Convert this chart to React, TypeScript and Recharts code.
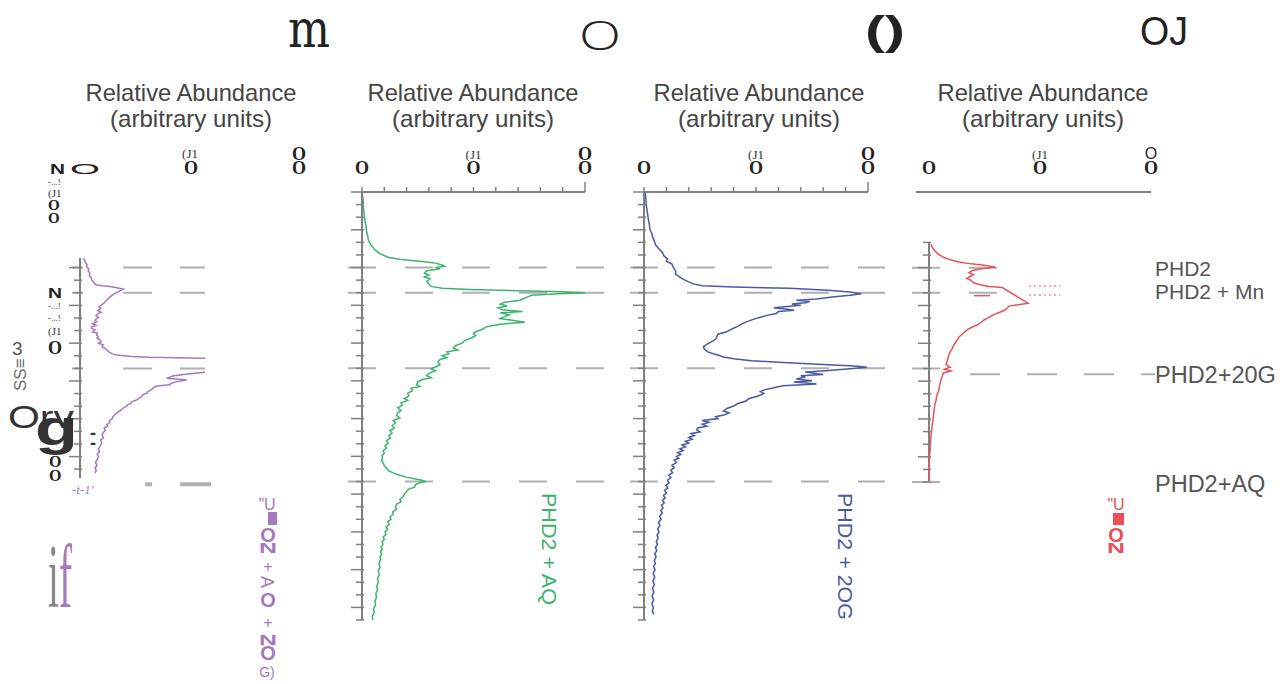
import { LineChart, Line, XAxis, YAxis, ReferenceLine } from 'recharts'

// ---- data (position = elution tick index, ab = relative abundance) ----
const abundanceTicks = [0, 10, 20, 30, 40, 50, 60, 70, 80, 90, 100]
const fullPosTicks = [0, 1, 2, 3, 4, 5, 6, 7, 8, 9, 10, 11, 12, 13, 14, 15, 16, 17, 18, 19, 20, 21, 22, 23, 24, 25, 26, 27, 28, 29, 30, 31, 32, 33, 34]
const purplePosTicks = [6, 7, 8, 9, 10, 11, 12, 13, 14, 15, 16, 17, 18, 19, 20, 21, 22]
const redPosTicks = [4, 5, 6, 7, 8, 9, 10, 11, 12, 13, 14, 15, 16, 17, 18, 19, 20, 21, 22, 23]
const markerPos = [6, 8, 14, 23]
const rightLabels = ['PHD2', 'PHD2 + Mn', 'PHD2+20G', 'PHD2+AQ']
const titleLines = ['Relative Abundance', '(arbitrary units)']
const panelLetters = ['m', 'O', '()', 'OJ']

const purpleTrace: [number, number][] = [
  [5.26, 1.5], [5.45, 2.2], [5.6, 2.5], [5.75, 3.2], [5.93, 3.1], [6.1, 4], [6.25, 3.8], [6.46, 4.6],
  [6.65, 4.3], [6.8, 5.2], [6.98, 5.4], [7.15, 6.2], [7.3, 7], [7.38, 7.7], [7.45, 10.5], [7.51, 13.9],
  [7.6, 17], [7.7, 20.1], [7.85, 18.5], [8.04, 16.2], [8.25, 14.5], [8.4, 13.5], [8.57, 12.4], [8.75, 11.5],
  [8.97, 10.1], [9.1, 8.8], [9.25, 9.6], [9.4, 8.2], [9.55, 9.8], [9.63, 8.5], [9.8, 7.4], [9.95, 8.6],
  [10.16, 7], [10.3, 7.8], [10.45, 5.8], [10.6, 7.4], [10.7, 5.3], [10.82, 5.4], [10.95, 7], [11.1, 5.8],
  [11.2, 8], [11.35, 7.7], [11.5, 8.6], [11.6, 7.9], [11.75, 9.3], [11.9, 9.8], [12.0, 8.6], [12.14, 10.8],
  [12.3, 10.3], [12.4, 11.5], [12.54, 12.4], [12.7, 13.4], [12.85, 15], [12.94, 17], [13.05, 24], [13.12, 32.5],
  [13.2, 60], [13.35, 88], [13.5, 100], [13.7, 95], [13.9, 82], [14.1, 70], [14.3, 58], [14.45, 50],
  [14.6, 43], [14.79, 40.2], [14.86, 46], [14.92, 49.5], [15.05, 45], [15.2, 42], [15.3, 41.8], [15.4, 35.6],
  [15.55, 34], [15.7, 33], [15.85, 31.5], [15.96, 31], [16.1, 29], [16.25, 28.5], [16.4, 27], [16.5, 26.3],
  [16.65, 24], [16.8, 23.5], [16.9, 22], [17.0, 21.7], [17.15, 20], [17.3, 19.2], [17.45, 17.8], [17.55, 17],
  [17.7, 16], [17.85, 15.2], [18.0, 14.8], [18.15, 13.6], [18.3, 13.9], [18.45, 12.4], [18.6, 12.8], [18.75, 11.2],
  [18.9, 11.8], [19.1, 10.8], [19.3, 10.2], [19.5, 10.9], [19.7, 9.6], [19.9, 10.1], [20.2, 9.3], [20.4, 8.5],
  [20.6, 9.1], [20.8, 8], [21.0, 8.6], [21.3, 7.7], [21.5, 7.2], [21.7, 7.9], [21.9, 7], [22.1, 7.5], [22.3, 7],
]

const greenTrace: [number, number][] = [
  [0, 0], [0.6, 0.5], [1.2, 0.6], [1.8, 1], [2.2, 1.3], [2.7, 1.8], [3.1, 2], [3.5, 2.6], [3.8, 2.8],
  [4.2, 4], [4.6, 5.8], [4.9, 8], [5.2, 12], [5.35, 17], [5.45, 22], [5.55, 28], [5.65, 33], [5.8, 36],
  [5.9, 37], [6.0, 33], [6.1, 35], [6.25, 29], [6.45, 28], [6.6, 30], [6.75, 28], [6.9, 30.5], [7.1, 29],
  [7.3, 30], [7.5, 31], [7.65, 36], [7.75, 48], [7.85, 70], [7.92, 90], [8.0, 100], [8.08, 88], [8.2, 76],
  [8.35, 74], [8.5, 72], [8.6, 71], [8.75, 64], [8.9, 62], [9.05, 65], [9.2, 61], [9.35, 63], [9.5, 72],
  [9.6, 62], [9.75, 66], [9.9, 64], [10.05, 62], [10.2, 68], [10.35, 73], [10.5, 62], [10.7, 56], [10.9, 54],
  [11.1, 51], [11.25, 50], [11.4, 51], [11.6, 49], [11.8, 46], [12.0, 45], [12.2, 42], [12.4, 41], [12.55, 43],
  [12.7, 38], [12.85, 39], [13.0, 36], [13.15, 38], [13.3, 35], [13.5, 34], [13.7, 35], [13.9, 33], [14.05, 31],
  [14.2, 33], [14.4, 30], [14.6, 29], [14.75, 31], [14.9, 27], [15.1, 25], [15.3, 24.5], [15.45, 26], [15.6, 22],
  [15.8, 22.5], [16.0, 20.5], [16.2, 21], [16.4, 19], [16.55, 20.5], [16.75, 17.5], [16.95, 18], [17.15, 16],
  [17.35, 17.5], [17.55, 16], [17.75, 15.5], [17.95, 17], [18.15, 14], [18.35, 15], [18.55, 13.5], [18.75, 14.5],
  [18.95, 12.5], [19.15, 13.5], [19.35, 12], [19.55, 12.8], [19.75, 11], [19.95, 11.8], [20.15, 10.3], [20.35, 11],
  [20.55, 9.5], [20.75, 10], [20.95, 9], [21.15, 9.2], [21.35, 8.8], [21.55, 9.6], [21.75, 10], [21.95, 11],
  [22.15, 12], [22.35, 14.5], [22.5, 17], [22.65, 20], [22.8, 24], [22.9, 27], [23.0, 28.3], [23.1, 26],
  [23.25, 24], [23.45, 23.5], [23.6, 21], [23.8, 20], [24.0, 19], [24.2, 18.5], [24.4, 17], [24.6, 17.5],
  [24.8, 15.5], [25.0, 15], [25.2, 15.5], [25.4, 13.8], [25.6, 14], [25.8, 12.6], [26.0, 13], [26.2, 11.5],
  [26.4, 12.2], [26.6, 10.8], [26.8, 11.5], [27.0, 10.3], [27.2, 10.8], [27.4, 9.5], [27.6, 10], [27.8, 9],
  [28.0, 9.4], [28.2, 8.5], [28.4, 9.1], [28.6, 8.3], [28.8, 8.8], [29.0, 8], [29.2, 8.4], [29.5, 7.6],
  [29.8, 8.1], [30.1, 7.3], [30.4, 7.7], [30.7, 7], [31.0, 7.3], [31.3, 6.6], [31.6, 7], [31.9, 6.2],
  [32.2, 6.5], [32.5, 5.8], [32.8, 6.1], [33.1, 5.2], [33.4, 5.5], [33.7, 4.6], [34.0, 4.8],
]

const blueTrace: [number, number][] = [
  [0, 0.5], [0.5, 0.8], [1.0, 1], [1.5, 1.4], [2.0, 1.8], [2.5, 2.3], [3.0, 2.7], [3.3, 3.5], [3.6, 3.9],
  [3.9, 4.6], [4.2, 5.2], [4.5, 6.6], [4.8, 8.2], [5.1, 9], [5.3, 10.4], [5.5, 10], [5.7, 12.4], [5.9, 12.8],
  [6.1, 13.5], [6.3, 14.2], [6.5, 14], [6.7, 15.5], [6.9, 17.2], [7.1, 19.5], [7.3, 22], [7.45, 26], [7.55, 40],
  [7.65, 65], [7.8, 82], [7.95, 92], [8.08, 97], [8.2, 92], [8.35, 84], [8.5, 77], [8.6, 68], [8.7, 74],
  [8.8, 72], [8.9, 66], [9.0, 70], [9.1, 64], [9.2, 58], [9.3, 63], [9.4, 67], [9.5, 60], [9.65, 59],
  [9.8, 55], [9.95, 52], [10.1, 49], [10.3, 46], [10.5, 43.5], [10.7, 41.5], [10.9, 39], [11.1, 37], [11.3, 33],
  [11.5, 32.5], [11.7, 32], [11.9, 30], [12.1, 28], [12.3, 26.5], [12.5, 27], [12.7, 28.5], [12.85, 31],
  [12.95, 33], [13.1, 35.5], [13.25, 40], [13.4, 48], [13.55, 62], [13.7, 80], [13.82, 94], [13.92, 99.5],
  [14.05, 92], [14.2, 81], [14.3, 72], [14.4, 76], [14.5, 80], [14.6, 70], [14.7, 72], [14.85, 68], [15.0, 75],
  [15.1, 67], [15.25, 77], [15.4, 62], [15.55, 58], [15.7, 54], [15.85, 52], [16.0, 53.5], [16.2, 51],
  [16.4, 47], [16.6, 45.5], [16.8, 42], [17.0, 40], [17.2, 37], [17.4, 35.5], [17.55, 38], [17.7, 36],
  [17.85, 32], [18.0, 33], [18.15, 26], [18.3, 29], [18.45, 26], [18.6, 28], [18.75, 24], [18.9, 23.5],
  [19.05, 25], [19.2, 21], [19.35, 22.5], [19.5, 20], [19.65, 21.5], [19.8, 18.5], [19.95, 20], [20.1, 17],
  [20.25, 18.5], [20.4, 16], [20.55, 17.5], [20.7, 15], [20.85, 16.5], [21.0, 14.5], [21.15, 15.5], [21.3, 13.5],
  [21.5, 14.5], [21.7, 12.5], [21.9, 13.5], [22.1, 12], [22.3, 12.8], [22.5, 11], [22.7, 12], [22.9, 10.5],
  [23.1, 11.2], [23.3, 9.8], [23.5, 10.6], [23.7, 9.2], [23.9, 10], [24.1, 8.7], [24.3, 9.4], [24.5, 8.3],
  [24.7, 9], [24.9, 7.8], [25.1, 8.5], [25.3, 7.5], [25.5, 8.2], [25.75, 7], [26.0, 7.6], [26.25, 6.5],
  [26.5, 7.1], [26.75, 6.1], [27.0, 6.7], [27.25, 5.8], [27.5, 6.3], [27.75, 5.5], [28.0, 6], [28.25, 5.1],
  [28.5, 5.7], [28.75, 4.8], [29.0, 5.4], [29.25, 4.6], [29.5, 5.1], [29.75, 4.3], [30.0, 4.9], [30.3, 4.1],
  [30.6, 4.8], [30.9, 4], [31.2, 4.6], [31.5, 3.8], [31.8, 4.4], [32.1, 3.6], [32.4, 4.3], [32.7, 3.5],
  [33.0, 4.2], [33.3, 3.7], [33.55, 4.4],
]

const redTrace: [number, number | null][] = [
  [4.15, 0.9], [4.4, 1.5], [4.6, 2.3], [4.9, 4], [5.2, 6.8], [5.4, 10], [5.55, 13.5], [5.7, 19], [5.8, 24.8],
  [5.95, 29.7], [6.05, 25], [6.2, 20], [6.4, 18], [6.55, 20], [6.7, 18.5], [6.85, 17], [7.0, 19], [7.2, 20],
  [7.35, 23], [7.5, 27], [7.58, 33], [7.7, null], [8.82, 44.6], [9.05, 36], [9.25, 35], [9.4, 33.8], [9.6, 31],
  [9.75, 29], [9.95, 27], [10.15, 24.8], [10.35, 23.5], [10.55, 21.6], [10.75, 19], [10.95, 17], [11.2, 15.5],
  [11.5, 13.5], [11.8, 12.5], [12.1, 11.3], [12.4, 10.5], [12.7, 9.5], [12.9, 9], [13.2, 8.5], [13.5, 8],
  [13.7, 7.7], [13.9, 9.5], [14.05, 7], [14.2, 9.9], [14.35, 6.5], [14.6, 6], [14.9, 5.4], [15.2, 5],
  [15.45, 4.6], [15.7, 4.5], [16.0, 3.8], [16.25, 3.4], [16.5, 3.2], [16.8, 2.7], [17.05, 2.5], [17.3, 2.3],
  [17.6, 2.1], [17.85, 1.9], [18.1, 1.8], [18.4, 1.5], [18.7, 1.3], [19.0, 1.1], [19.3, 0.9], [19.6, 0.8],
  [19.9, 0.6], [20.2, 0.5], [20.5, 0.5], [20.8, 0.3], [21.1, 0.3], [21.4, 0.1], [21.7, 0], [22.0, 0.2],
  [22.3, 0], [22.6, 0], [22.9, 0],
]

const toRows = (pairs: [number, number | null][]) => pairs.map(([pos, ab]) => ({ pos, ab }))

const SANS = '"Liberation Sans", Arial, sans-serif'
const SERIF = '"Liberation Serif", serif'
const AXIS = '#808080'
const DASH = '#b0b0b0'
const PURPLE = '#a679bd'
const GREEN = '#3db46d'
const BLUE = '#4a58a6'
const RED = '#e9505a'

const AX_Y = 50 // top axis line inside the chart svg
const Y_W = 20 // y axis width

const boldO = (x: number, y: number) => (
  <text x={x} y={y} textAnchor="middle" fontFamily={SERIF} fontWeight="bold" fontSize={18} fill="#222">O</text>
)

function TopLabel({ x, v, thinTop }: { x: number; v: number; thinTop?: boolean }) {
  if (v === 0) return boldO(x, 32)
  if (v === 50)
    return (
      <g>
        <text x={x} y={17} textAnchor="middle" fontFamily={SERIF} fontSize={13} fill="#333">(J1</text>
        {boldO(x, 32)}
      </g>
    )
  if (v === 100)
    return (
      <g>
        {thinTop ? (
          <text x={x} y={17} textAnchor="middle" fontFamily={SANS} fontSize={16} fill="#222">O</text>
        ) : (
          boldO(x, 18)
        )}
        {boldO(x, 32)}
      </g>
    )
  return null
}

function TopTick(props: any) {
  const { x, payload } = props
  const v = payload.value
  return (
    <g>
      <line x1={x} x2={x} y1={AX_Y} y2={AX_Y - (v === 100 ? 10 : 5)} stroke={AXIS} strokeWidth={1.5} />
      <TopLabel x={x} v={v} />
    </g>
  )
}

function RedTopTick(props: any) {
  const { x, payload } = props
  return (
    <g>
      <TopLabel x={x} v={payload.value} thinTop />
    </g>
  )
}

function PosTick(props: any) {
  const { y, payload } = props
  const len = payload.value % 3 === 0 ? 11 : 6
  return <line x1={Y_W - len} x2={Y_W + 2} y1={y} y2={y} stroke={AXIS} strokeWidth={1.5} />
}

const dashed = { stroke: DASH, strokeWidth: 2, ifOverflow: 'visible' as const }

export default function App() {
  const panelCenters = [191, 473, 759, 1043]
  return (
    <div style={{ position: 'absolute', left: 0, top: 0, width: 1287, height: 684, background: '#fff', overflow: 'hidden' }}>
      {/* purple panel (cropped) */}
      <div style={{ position: 'absolute', left: 60, top: 248 }}>
        <LineChart layout="vertical" width={157} height={250} data={toRows(purpleTrace)} margin={{ top: 10, right: 12, bottom: 20, left: 0 }}>
          <XAxis type="number" hide domain={[0, 58]} allowDataOverflow />
          <YAxis type="number" dataKey="pos" domain={[5.24, 22.7]} allowDataOverflow ticks={purplePosTicks} interval={0} width={Y_W} tick={PosTick} tickLine={false} axisLine={{ stroke: AXIS, strokeWidth: 2 }} />
          {markerPos.slice(0, 3).map((p) => (
            <ReferenceLine key={p} segment={[{ x: -3.7, y: p }, { x: 58, y: p }]} {...dashed} strokeDasharray="11 40 29 28 29 28" />
          ))}
          <ReferenceLine segment={[{ x: 30.2, y: 23.2 }, { x: 60.8, y: 23.2 }]} stroke={DASH} strokeWidth={4} ifOverflow="visible" strokeDasharray="7 28 31" />
          <Line dataKey="ab" type="linear" stroke={PURPLE} strokeWidth={1.5} dot={false} isAnimationActive={false} />
        </LineChart>
      </div>

      {/* green panel */}
      <div style={{ position: 'absolute', left: 342, top: 142 }}>
        <LineChart layout="vertical" width={268} height={488} data={toRows(greenTrace)} margin={{ top: 10, right: 25, bottom: 10, left: 0 }}>
          <XAxis type="number" orientation="top" domain={[0, 100]} ticks={abundanceTicks} interval={0} height={40} tick={TopTick} tickLine={false} axisLine={{ stroke: AXIS, strokeWidth: 2 }} />
          <YAxis type="number" dataKey="pos" domain={[0, 34]} ticks={fullPosTicks} interval={0} width={Y_W} tick={PosTick} tickLine={false} axisLine={{ stroke: AXIS, strokeWidth: 2 }} />
          {markerPos.map((p) => (
            <ReferenceLine key={p} segment={[{ x: -6.3, y: p }, { x: 109, y: p }]} {...dashed} strokeDasharray="28 29" />
          ))}
          <Line dataKey="ab" type="linear" stroke={GREEN} strokeWidth={1.5} dot={false} isAnimationActive={false} />
        </LineChart>
      </div>

      {/* blue panel */}
      <div style={{ position: 'absolute', left: 624, top: 142 }}>
        <LineChart layout="vertical" width={269} height={488} data={toRows(blueTrace)} margin={{ top: 10, right: 25, bottom: 10, left: 0 }}>
          <XAxis type="number" orientation="top" domain={[0, 100]} ticks={abundanceTicks} interval={0} height={40} tick={TopTick} tickLine={false} axisLine={{ stroke: AXIS, strokeWidth: 2 }} />
          <YAxis type="number" dataKey="pos" domain={[0, 34]} ticks={fullPosTicks} interval={0} width={Y_W} tick={PosTick} tickLine={false} axisLine={{ stroke: AXIS, strokeWidth: 2 }} />
          {markerPos.map((p) => (
            <ReferenceLine key={p} segment={[{ x: -6.25, y: p }, { x: 107.6, y: p }]} {...dashed} strokeDasharray="28 29" />
          ))}
          <Line dataKey="ab" type="linear" stroke={BLUE} strokeWidth={1.5} dot={false} isAnimationActive={false} />
        </LineChart>
      </div>

      {/* red panel */}
      <div style={{ position: 'absolute', left: 909, top: 142 }}>
        <LineChart layout="vertical" width={254} height={350} data={toRows(redTrace)} margin={{ top: 10, right: 12, bottom: 10, left: 0 }}>
          <XAxis type="number" orientation="top" domain={[0, 100]} ticks={[0, 50, 100]} interval={0} height={40} tick={RedTopTick} tickLine={false} axisLine={{ stroke: AXIS, strokeWidth: 2 }} />
          <YAxis type="number" dataKey="pos" domain={[0, 23]} ticks={redPosTicks} interval={0} width={Y_W} tick={PosTick} tickLine={false} axisLine={false} />
          <ReferenceLine segment={[{ x: -6, y: 0 }, { x: 0, y: 0 }]} stroke={AXIS} strokeWidth={2} ifOverflow="visible" />
          <ReferenceLine segment={[{ x: 0, y: 4.05 }, { x: 0, y: 23 }]} stroke={AXIS} strokeWidth={2} ifOverflow="visible" />
          {markerPos.slice(0, 2).map((p) => (
            <ReferenceLine key={p} segment={[{ x: -7.7, y: p }, { x: 30.6, y: p }]} {...dashed} strokeDasharray="28 29" />
          ))}
          {markerPos.slice(2).map((p) => (
            <ReferenceLine key={p} segment={[{ x: -7.7, y: p }, { x: 5, y: p }]} {...dashed} strokeDasharray="28 29" />
          ))}
          <ReferenceLine segment={[{ x: 18.5, y: 14.45 }, { x: 101.8, y: 14.45 }]} {...dashed} strokeDasharray="30 27" />
          <ReferenceLine segment={[{ x: 45, y: 7.46 }, { x: 59, y: 7.46 }]} stroke="#f08a96" strokeWidth={1.5} strokeDasharray="2 3" ifOverflow="visible" />
          <ReferenceLine segment={[{ x: 45, y: 8.17 }, { x: 59, y: 8.17 }]} stroke="#f08a96" strokeWidth={1.5} strokeDasharray="2 3" ifOverflow="visible" />
          <ReferenceLine segment={[{ x: 20.3, y: 8.22 }, { x: 27.5, y: 8.22 }]} stroke={RED} strokeWidth={1.5} ifOverflow="visible" />
          <Line dataKey="ab" type="linear" stroke={RED} strokeWidth={1.5} dot={false} connectNulls={false} isAnimationActive={false} />
        </LineChart>
      </div>

      {/* text overlay */}
      <svg width={1287} height={684} style={{ position: 'absolute', left: 0, top: 0, pointerEvents: 'none' }}>
        {panelCenters.map((cx) => (
          <g key={cx} fontFamily={SANS} fill="#444" textAnchor="middle">
            <text x={cx} y={101} fontSize={24} textLength={211} lengthAdjust="spacingAndGlyphs">{titleLines[0]}</text>
            <text x={cx} y={127} fontSize={24} textLength={162} lengthAdjust="spacingAndGlyphs">{titleLines[1]}</text>
          </g>
        ))}

        <text x={288} y={47} fontFamily='"DejaVu Serif", serif' fontSize={52} textLength={42} lengthAdjust="spacingAndGlyphs" fill="#222">{panelLetters[0]}</text>
        <text x={579} y={50} fontFamily='"Open Sans", sans-serif' fontWeight={300} fontSize={40} textLength={42} lengthAdjust="spacingAndGlyphs" fill="#222">{panelLetters[1]}</text>
        <text x={865} y={45} fontFamily={SANS} fontWeight="bold" fontSize={40} textLength={40} lengthAdjust="spacingAndGlyphs" fill="#222">{panelLetters[2]}</text>
        <text x={1140} y={45} fontFamily={SANS} fontSize={40} textLength={48} lengthAdjust="spacingAndGlyphs" fill="#222">{panelLetters[3]}</text>

        {/* purple panel axis labels */}
        <text x={50} y={174} fontFamily={SANS} fontWeight="bold" fontSize={15} textLength={15} lengthAdjust="spacingAndGlyphs" fill="#222">N</text>
        <text x={70} y={174} fontFamily={SANS} fontSize={15} textLength={30} lengthAdjust="spacingAndGlyphs" fill="#222">O</text>
        <text x={48} y={185} fontFamily={SERIF} fontSize={9} fill="#333">-...!</text>
        <text x={48} y={197} fontFamily={SERIF} fontSize={11} fill="#333">(J1</text>
        <text x={48} y={210} fontFamily={SERIF} fontWeight="bold" fontSize={15} fill="#222">O</text>
        <text x={48} y={223} fontFamily={SERIF} fontWeight="bold" fontSize={15} fill="#222">O</text>
        <text x={190} y={158} textAnchor="middle" fontFamily={SERIF} fontSize={13} fill="#333">(J1</text>
        <text x={191} y={174} textAnchor="middle" fontFamily={SERIF} fontWeight="bold" fontSize={18} fill="#222">O</text>
        <text x={299} y={160} textAnchor="middle" fontFamily={SERIF} fontWeight="bold" fontSize={18} fill="#222">O</text>
        <text x={299} y={174} textAnchor="middle" fontFamily={SERIF} fontWeight="bold" fontSize={18} fill="#222">O</text>

        <text x={48} y={298} fontFamily={SANS} fontWeight="bold" fontSize={15} textLength={14} lengthAdjust="spacingAndGlyphs" fill="#222">N</text>
        <text x={48} y={309} fontFamily={SERIF} fontSize={9} fill="#333">-...!</text>
        <text x={48} y={321} fontFamily={SERIF} fontSize={9} fill="#333">-...!</text>
        <text x={48} y={335} fontFamily={SERIF} fontSize={11} fill="#333">(J1</text>
        <text x={48} y={354} fontFamily={SERIF} fontWeight="bold" fontSize={18} fill="#222">O</text>
        <text x={12} y={355} fontFamily={SANS} fontSize={19} fill="#555">3</text>
        <text transform="translate(26,391) rotate(-90)" fontFamily={SANS} fontSize={17} fill="#6a6a6a">SS≡</text>
        <text x={8} y={428} fontFamily={SANS} fontSize={31} textLength={66} lengthAdjust="spacingAndGlyphs" fill="#333">Orv</text>
        <text x={35} y={445} fontFamily={SANS} fontWeight="bold" fontSize={50} textLength={43} lengthAdjust="spacingAndGlyphs" fill="#333">g</text>
        <text x={90} y={439} fontFamily={SANS} fontWeight="bold" fontSize={18} fill="#333">-</text>
        <text x={90} y={449} fontFamily={SANS} fontWeight="bold" fontSize={18} fill="#333">-</text>
        <text x={49} y={467} fontFamily={SERIF} fontWeight="bold" fontSize={16} fill="#222">O</text>
        <text x={49} y={481} fontFamily={SERIF} fontWeight="bold" fontSize={16} fill="#222">O</text>
        <text x={72} y={494} fontFamily={SERIF} fontStyle="italic" fontSize={13} fill={PURPLE}>-t-1'</text>
        <text x={48} y={607} fontFamily={SERIF} fontSize={90} textLength={24} lengthAdjust="spacingAndGlyphs">
          <tspan fill="#888">i</tspan>
          <tspan fill={PURPLE}>f</tspan>
        </text>

        {/* purple series label */}
        <g fill={PURPLE} fontFamily={SANS} textAnchor="middle">
          <text x={267} y={510} fontSize={16}>"U</text>
          <rect x={268} y={512} width={9} height={13} fill={PURPLE} />
          <text x={268} y={542} fontSize={20} fontWeight="bold">O</text>
          <text x={268} y={553} fontSize={14} fontWeight="bold" textLength={18} lengthAdjust="spacingAndGlyphs">N</text>
          <text x={268} y={572} fontSize={16}>+</text>
          <text transform="translate(261,576) rotate(90)" fontSize={18} textAnchor="start">A</text>
          <text x={268} y={607} fontSize={20} fontWeight="bold">O</text>
          <text x={268} y={628} fontSize={16}>+</text>
          <text x={268} y={645} fontSize={14} fontWeight="bold" textLength={18} lengthAdjust="spacingAndGlyphs">N</text>
          <text x={268} y={660} fontSize={20} fontWeight="bold">O</text>
          <text x={267} y={677} fontSize={14}>G)</text>
        </g>

        {/* green / blue series labels */}
        <text transform="translate(542,493) rotate(90)" fontFamily={SANS} fontSize={21} textLength={112} lengthAdjust="spacingAndGlyphs" fill={GREEN}>PHD2 + AQ</text>
        <text transform="translate(838,493) rotate(90)" fontFamily={SANS} fontSize={21} textLength={127} lengthAdjust="spacingAndGlyphs" fill={BLUE}>PHD2 + 2OG</text>

        {/* red series label */}
        <g fill={RED} fontFamily={SANS} textAnchor="middle">
          <text x={1116} y={510} fontSize={16}>"U</text>
          <rect x={1113} y={513} width={11} height={12} fill={RED} />
          <text x={1116} y={542} fontSize={20} fontWeight="bold">O</text>
          <text x={1116} y={553} fontSize={14} fontWeight="bold" textLength={18} lengthAdjust="spacingAndGlyphs">N</text>
        </g>

        {/* right side labels */}
        <g fontFamily={SANS} fill="#555">
          <text x={1155} y={276} fontSize={21}>{rightLabels[0]}</text>
          <text x={1155} y={299} fontSize={21}>{rightLabels[1]}</text>
          <text x={1155} y={383} fontSize={23.5}>{rightLabels[2]}</text>
          <text x={1155} y={492} fontSize={23.5}>{rightLabels[3]}</text>
        </g>
      </svg>
    </div>
  )
}
